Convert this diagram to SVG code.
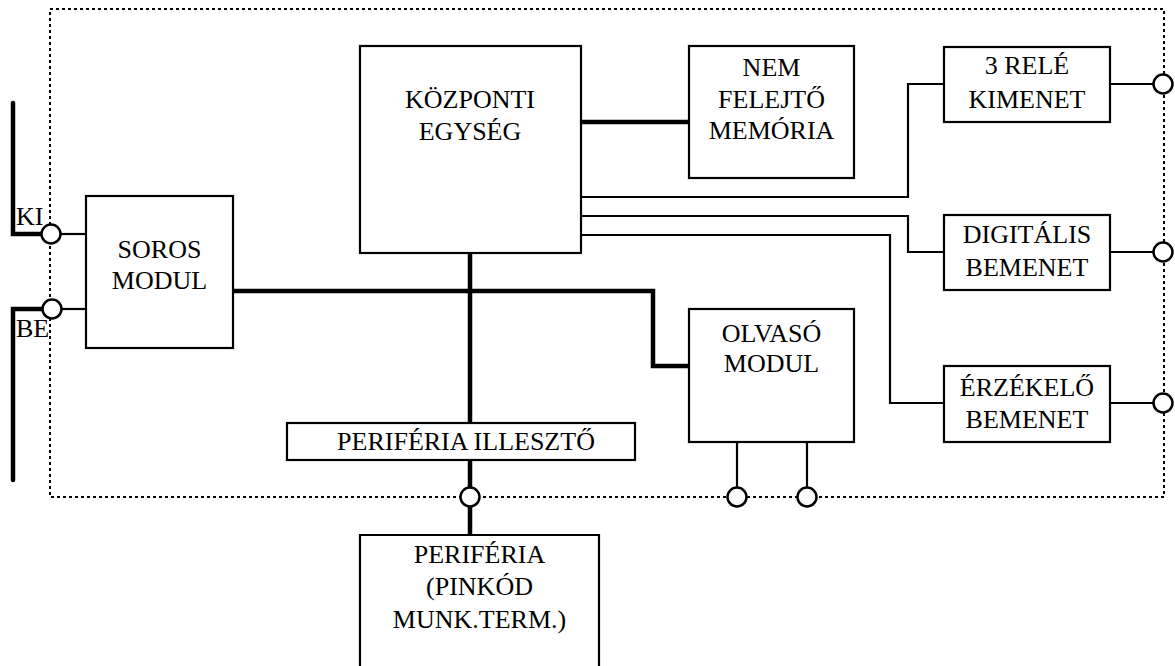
<svg xmlns="http://www.w3.org/2000/svg" width="1175" height="666" viewBox="0 0 1175 666" font-family="Liberation Serif, serif">
<style>
.box{fill:#fff;stroke:#000;stroke-width:2.2}
.thin{fill:none;stroke:#000;stroke-width:2.2}
.thick{fill:none;stroke:#000;stroke-width:4.5;stroke-linejoin:miter}
.thickr{fill:none;stroke:#000;stroke-width:4.5;stroke-linecap:round}
.dot{fill:none;stroke:#000;stroke-width:2;stroke-dasharray:3 3}
.term{fill:#fff;stroke:#000;stroke-width:2.5}
text{font-family:'Liberation Serif',serif;font-size:26px;fill:#000;text-anchor:middle}
.lab{text-anchor:start}
</style>
<rect width="1175" height="666" fill="#fff"/>
<g id="boundary">
<rect x="50" y="9" width="1114" height="488" class="dot"/>
</g>
<g id="connectors">
<path class="thickr" d="M13,103 V234 H50"/>
<path class="thickr" d="M13,480 V309 H51"/>
<path class="thin" d="M60,234 H86"/>
<path class="thin" d="M61,309 H86"/>
<path class="thick" d="M581,122 H689"/>
<path class="thin" d="M581,197 H908 V84 H944"/>
<path class="thin" d="M581,216 H908 V252 H944"/>
<path class="thin" d="M581,235 H890 V403 H944"/>
<path class="thin" d="M1110,84 H1163"/>
<path class="thin" d="M1110,252 H1163"/>
<path class="thin" d="M1110,403 H1163"/>
<path class="thick" d="M233,291 H653 V366 H689"/>
<path class="thick" d="M470,253 V423"/>
<path class="thick" d="M470,460 V535"/>
<path class="thin" d="M737,442 V497"/>
<path class="thin" d="M807,442 V497"/>
</g>
<g id="terminals">
<circle class="term" cx="51" cy="234" r="9.5"/>
<circle class="term" cx="52" cy="309" r="9.5"/>
<circle class="term" cx="470" cy="497" r="9.5"/>
<circle class="term" cx="737" cy="497" r="9.5"/>
<circle class="term" cx="807" cy="497" r="9.5"/>
<circle class="term" cx="1163" cy="84" r="9.5"/>
<circle class="term" cx="1163" cy="252" r="9.5"/>
<circle class="term" cx="1163" cy="403" r="9.5"/>
</g>
<g id="labels">
<text class="lab" x="16" y="225">KI</text>
<text class="lab" x="16" y="337">BE</text>
</g>
<g id="soros">
<rect class="box" x="86" y="196" width="147" height="152"/>
<text x="159.5" y="258">SOROS</text>
<text x="159.5" y="289">MODUL</text>
</g>
<g id="kozponti">
<rect class="box" x="360" y="46" width="221" height="207"/>
<text x="470" y="108">KÖZPONTI</text>
<text x="470" y="140">EGYSÉG</text>
</g>
<g id="memoria">
<rect class="box" x="689" y="46" width="165" height="132"/>
<text x="771.5" y="76">NEM</text>
<text x="771.5" y="108">FELEJTŐ</text>
<text x="771.5" y="139">MEMÓRIA</text>
</g>
<g id="rele">
<rect class="box" x="944" y="47" width="166" height="75"/>
<text x="1027" y="74">3 RELÉ</text>
<text x="1027" y="108">KIMENET</text>
</g>
<g id="digitalis">
<rect class="box" x="944" y="215" width="166" height="75"/>
<text x="1027" y="243">DIGITÁLIS</text>
<text x="1027" y="276">BEMENET</text>
</g>
<g id="erzekelo">
<rect class="box" x="944" y="366" width="166" height="76"/>
<text x="1027" y="396">ÉRZÉKELŐ</text>
<text x="1027" y="428">BEMENET</text>
</g>
<g id="olvaso">
<rect class="box" x="689" y="309" width="165" height="133"/>
<text x="771.5" y="342">OLVASÓ</text>
<text x="771.5" y="372">MODUL</text>
</g>
<g id="illeszto">
<rect class="box" x="287" y="423" width="348" height="37"/>
<text x="466" y="450">PERIFÉRIA ILLESZTŐ</text>
</g>
<g id="periferia">
<path class="box" d="M360,670 V535 H599 V670"/>
<text x="479.5" y="563">PERIFÉRIA</text>
<text x="479.5" y="595">(PINKÓD</text>
<text x="479.5" y="628">MUNK.TERM.)</text>
</g>
</svg>
